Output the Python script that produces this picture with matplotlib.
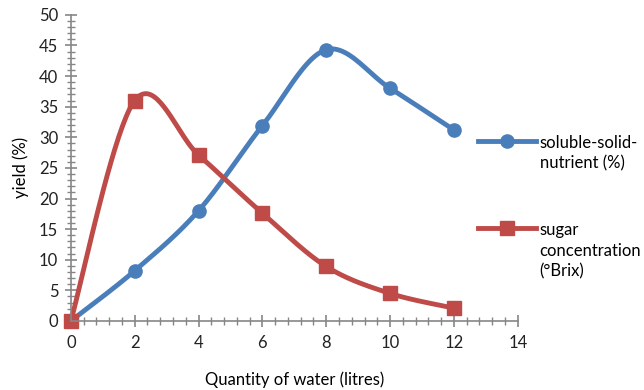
import numpy as np
import matplotlib.pyplot as plt
from matplotlib.ticker import MultipleLocator

# données
water = [0, 2, 4, 6, 8, 10, 12]
soluble = [0, 8.2, 18.0, 31.9, 44.3, 38.0, 31.2]
sugar = [0, 36.0, 27.1, 17.6, 8.9, 4.5, 2.1]

label_soluble = "soluble-solid-\nnutrient (%)"
label_sugar = "sugar\nconcentration\n(°Brix)"

blue = "#4A7EBB"
red = "#BE4B48"
grey = "#868686"

plt.rcParams['font.family'] = ['Lato', 'DejaVu Sans']


def smooth(x, y, n=40):
    # courbe lissée façon Excel (Bézier, tangentes de Catmull-Rom)
    x = np.asarray(x, float)
    y = np.asarray(y, float)
    px = np.concatenate([[x[0]], x, [x[-1]]])
    py = np.concatenate([[y[0]], y, [y[-1]]])
    t = np.linspace(0, 1, n)
    xs, ys = [], []
    for i in range(len(x) - 1):
        p0 = np.array([px[i + 1], py[i + 1]])
        p3 = np.array([px[i + 2], py[i + 2]])
        c1 = p0 + (np.array([px[i + 2], py[i + 2]]) - np.array([px[i], py[i]])) / 6
        c2 = p3 - (np.array([px[i + 3], py[i + 3]]) - np.array([px[i + 1], py[i + 1]])) / 6
        b = ((1 - t)**3)[:, None] * p0 + (3 * (1 - t)**2 * t)[:, None] * c1 \
            + (3 * (1 - t) * t**2)[:, None] * c2 + (t**3)[:, None] * p3
        xs.append(b[:, 0])
        ys.append(b[:, 1])
    return np.concatenate(xs), np.concatenate(ys)


fig = plt.figure(figsize=(6.44, 3.90), dpi=100)
ax = fig.add_axes([0.110, 0.177, 0.694, 0.785])

sx, sy = smooth(water, soluble)
ax.plot(sx, sy, color=blue, lw=3.5, clip_on=False, solid_capstyle='round')
ax.plot(water, soluble, 'o', color=blue, ms=9.5, clip_on=False)
rx, ry = smooth(water, sugar)
ax.plot(rx, ry, color=red, lw=3.5, clip_on=False, solid_capstyle='round')
ax.plot(water, sugar, 's', color=red, ms=9.5, clip_on=False)

# éléments de légende
h1, = ax.plot([], [], '-o', color=blue, lw=3.5, ms=9.5, label=label_soluble)
h2, = ax.plot([], [], '-s', color=red, lw=3.5, ms=9.5, label=label_sugar)

ax.set_xlim(0, 14)
ax.set_ylim(0, 50)
ax.xaxis.set_major_locator(MultipleLocator(2))
ax.xaxis.set_minor_locator(MultipleLocator(0.4))
ax.yaxis.set_major_locator(MultipleLocator(5))
ax.yaxis.set_minor_locator(MultipleLocator(1))

for s in ['top', 'right']:
    ax.spines[s].set_visible(False)
for s in ['left', 'bottom']:
    ax.spines[s].set_color(grey)
    ax.spines[s].set_linewidth(1.2)
ax.tick_params(which='major', direction='inout', length=8, width=1.2, color=grey,
               labelsize=12, labelcolor='#222222')
ax.tick_params(which='minor', direction='inout', length=6, width=1.0, color=grey)
ax.tick_params(axis='x', pad=6)
ax.tick_params(axis='y', pad=5)

ax.set_xlabel("Quantity of water (litres)", fontsize=12, labelpad=15)
ax.set_ylabel("yield (%)", fontsize=12, labelpad=7)

leg = ax.legend(handles=[h1, h2], loc='upper left', bbox_to_anchor=(0.896, 0.63),
                frameon=False, fontsize=12, handlelength=3.5, handletextpad=0.2,
                labelspacing=3.05, borderaxespad=0)
for t in leg.get_texts():
    t.set_linespacing(1.35)
for col in leg._legend_handle_box.get_children():
    for hp in col.get_children():
        hp.align = 'top'

fig.savefig("out.png", dpi=100)
